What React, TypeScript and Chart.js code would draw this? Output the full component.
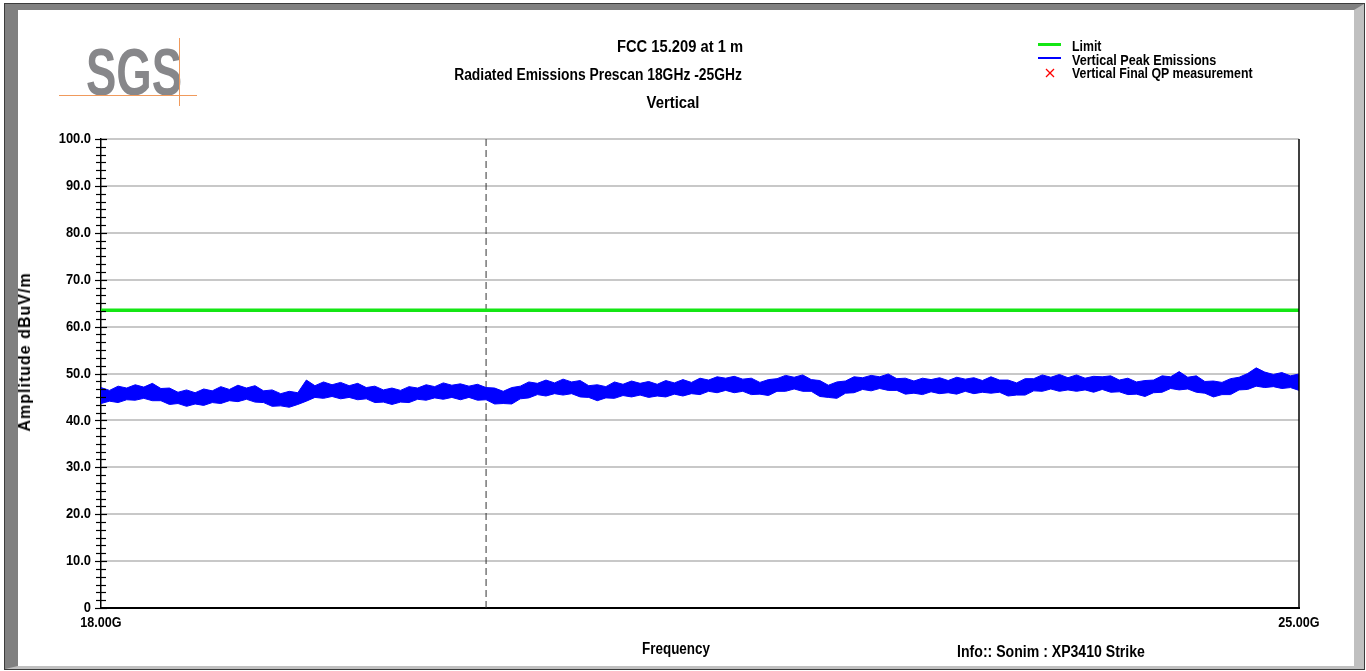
import React, { useEffect, useRef } from "react";
import { Chart, registerables } from "chart.js";

Chart.register(...registerables);

const FONT = '"Liberation Sans", Arial, sans-serif';

// Sweep grid (GHz)
const FREQ_START_GHZ = 18;
const FREQ_STOP_GHZ = 25;
const FREQ_STEP_GHZ = 0.05;

// Vertical peak emissions envelope (dBuV/m), every 50 MHz
const PEAK_UPPER = [
  47.0, 46.4, 47.3, 46.9, 47.6, 47.1, 47.9, 46.8, 46.9, 46.0,
  46.5, 45.9, 46.7, 46.3, 47.2, 46.6, 47.5, 46.9, 47.4, 46.3,
  46.5, 45.7, 46.2, 45.9, 48.6, 47.4, 48.2, 47.6, 48.1, 47.4,
  47.9, 47.0, 47.3, 46.5, 46.9, 46.4, 47.2, 46.9, 47.6, 47.2,
  48.0, 47.5, 47.8, 47.3, 47.7, 47.0, 46.9, 46.2, 47.0, 47.3,
  48.2, 47.9, 48.6, 48.0, 48.8, 48.2, 48.5, 47.4, 47.6, 47.2,
  48.2, 47.7, 48.4, 47.9, 48.3, 47.7, 48.5, 48.0, 48.7, 48.1,
  49.0, 48.6, 49.3, 49.0, 49.4, 48.8, 49.0, 48.1, 48.7, 48.9,
  49.6, 49.2, 49.7, 48.7, 48.5, 47.5, 48.2, 48.4, 49.3, 49.1,
  49.6, 49.3, 49.9, 48.9, 49.0, 48.4, 49.0, 48.7, 49.1, 48.5,
  49.2, 48.8, 49.1, 48.5, 49.3, 48.6, 48.6, 48.0, 48.9, 48.9,
  49.7, 49.2, 49.8, 49.1, 49.7, 49.0, 49.4, 49.3, 49.5, 48.6,
  49.0, 48.2, 48.5, 48.6, 49.5, 49.3, 50.4, 49.2, 49.5, 48.3,
  48.4, 48.1, 48.9, 49.2, 50.0, 51.2, 50.3, 49.8, 50.2, 49.5,
  49.9,
];
const PEAK_LOWER = [
  43.6, 44.1, 43.8, 44.4, 44.3, 44.7, 44.2, 44.2, 43.4, 43.6,
  43.0, 43.5, 43.2, 43.8, 43.6, 44.2, 44.0, 44.5, 43.9, 43.8,
  43.0, 43.1, 42.8, 43.4, 44.1, 44.9, 44.7, 45.1, 44.6, 44.9,
  44.4, 44.6, 43.8, 43.9, 43.4, 43.9, 43.8, 44.5, 44.3, 44.8,
  44.5, 44.9, 44.4, 44.9, 44.3, 44.4, 43.5, 43.6, 43.5, 44.6,
  44.8, 45.5, 45.2, 45.7, 45.4, 45.7, 45.0, 44.9, 44.2, 44.8,
  44.7, 45.3, 45.0, 45.4, 44.9, 45.2, 45.0, 45.6, 45.2, 45.7,
  45.5, 46.2, 45.9, 46.4, 45.9, 46.2, 45.5, 45.6, 45.3, 46.2,
  46.2, 46.7, 46.2, 46.2, 45.1, 44.9, 44.7, 45.8, 45.9, 46.6,
  46.3, 46.8, 46.4, 46.4, 45.6, 45.8, 45.5, 46.1, 45.7, 45.9,
  45.6, 46.2, 45.7, 46.0, 45.8, 46.0, 45.2, 45.4, 45.4, 46.3,
  46.2, 46.7, 46.2, 46.5, 46.2, 46.5, 46.0, 46.6, 46.0, 46.1,
  45.5, 45.6, 45.1, 45.9, 46.0, 46.8, 46.5, 46.7, 46.0, 45.8,
  45.0, 45.5, 45.5, 46.5, 46.6, 47.3, 47.0, 47.2, 46.8, 47.0,
  46.4,
];

const LIMIT_FREQS = [18, 25];
const LIMIT_LEVELS = [63.5, 63.5];

const MARKER_FREQS = [20.25, 20.25];
const MARKER_LEVELS = [0, 100];

const Y_TICKS = [0, 10, 20, 30, 40, 50, 60, 70, 80, 90, 100];
const Y_TICK_LABELS = ["0", "10.0", "20.0", "30.0", "40.0", "50.0", "60.0", "70.0", "80.0", "90.0", "100.0"];
const X_TICKS = [18, 25];
const X_TICK_LABELS = ["18.00G", "25.00G"];
const Y_MINOR_DIVISIONS = 6;

const SAMPLE_FREQS = PEAK_UPPER.map((_, i) => FREQ_START_GHZ + i * FREQ_STEP_GHZ);

const axisDecor = {
  id: "axisDecor",
  afterDraw(chart: any) {
    const { ctx, chartArea, scales } = chart;
    const y = scales.y;
    const x = scales.x;
    ctx.save();
    ctx.strokeStyle = "#000";
    ctx.lineWidth = 1.5;
    ctx.beginPath();
    ctx.moveTo(chartArea.right, chartArea.top);
    ctx.lineTo(chartArea.right, chartArea.bottom);
    ctx.stroke();
    const left = chartArea.left;
    ctx.lineWidth = 1.2;
    for (let k = 0; k < Y_TICKS.length; k++) {
      const a = Y_TICKS[k];
      const last = k === Y_TICKS.length - 1;
      const b = last ? a : Y_TICKS[k + 1];
      const count = last ? 1 : Y_MINOR_DIVISIONS;
      for (let j = 0; j < count; j++) {
        const v = a + ((b - a) * j) / Y_MINOR_DIVISIONS;
        const py = Math.round(y.getPixelForValue(v)) + 0.5;
        const major = j === 0;
        ctx.beginPath();
        ctx.moveTo(left - (major ? 6 : 5), py);
        ctx.lineTo(left + (major ? 6 : 5), py);
        ctx.stroke();
      }
    }
    // tick labels (condensed bold)
    ctx.fillStyle = "#000";
    ctx.font = `bold 15px ${FONT}`;
    ctx.textBaseline = "middle";
    ctx.textAlign = "right";
    Y_TICKS.forEach((v, i) => {
      ctx.save();
      ctx.translate(left - 10, y.getPixelForValue(v));
      ctx.scale(0.86, 1);
      ctx.fillText(Y_TICK_LABELS[i], 0, 0);
      ctx.restore();
    });
    ctx.textAlign = "center";
    X_TICKS.forEach((v, i) => {
      ctx.save();
      ctx.translate(x.getPixelForValue(v), chartArea.bottom + 15);
      ctx.scale(0.84, 1);
      ctx.fillText(X_TICK_LABELS[i], 0, 0);
      ctx.restore();
    });
    ctx.restore();
  },
};

function Txt(props: {
  x: number;
  y: number;
  size: number;
  sx?: number;
  align?: "left" | "center";
  color?: string;
  rotate?: boolean;
  spacing?: number;
  children: React.ReactNode;
}) {
  const { x, y, size, sx = 1, align = "center", color = "#000", rotate, spacing = 0, children } = props;
  let transform = align === "center" ? `translate(-50%, -50%) scaleX(${sx})` : `translate(0, -50%) scaleX(${sx})`;
  let origin = align === "center" ? "center center" : "left center";
  if (rotate) {
    transform = `translate(-50%, -50%) rotate(-90deg) scaleX(${sx})`;
    origin = "center center";
  }
  return (
    <div
      style={{
        position: "absolute",
        left: x,
        top: y,
        transform,
        transformOrigin: origin,
        fontFamily: FONT,
        fontWeight: "bold",
        fontSize: size,
        lineHeight: 1,
        letterSpacing: spacing,
        whiteSpace: "nowrap",
        color,
      }}
    >
      {children}
    </div>
  );
}

export default function App() {
  const canvasRef = useRef<HTMLCanvasElement | null>(null);

  useEffect(() => {
    document.body.style.margin = "0";
    const canvas = canvasRef.current;
    if (!canvas) return;
    const chart = new Chart(canvas, {
      type: "line",
      data: {
        datasets: [
          {
            label: "Limit",
            data: LIMIT_FREQS.map((f, i) => ({ x: f, y: LIMIT_LEVELS[i] })),
            borderColor: "#14e614",
            borderWidth: 3.5,
            pointRadius: 0,
            fill: false,
          },
          {
            label: "Vertical Peak Emissions",
            data: SAMPLE_FREQS.map((f, i) => ({ x: f, y: PEAK_UPPER[i] })),
            borderColor: "#0000ff",
            backgroundColor: "#0000ff",
            borderWidth: 1,
            pointRadius: 0,
            fill: "+1",
          },
          {
            label: "Vertical Peak Emissions (lower)",
            data: SAMPLE_FREQS.map((f, i) => ({ x: f, y: PEAK_LOWER[i] })),
            borderColor: "#0000ff",
            borderWidth: 1,
            pointRadius: 0,
            fill: false,
          },
          {
            label: "Marker",
            data: MARKER_FREQS.map((f, i) => ({ x: f, y: MARKER_LEVELS[i] })),
            borderColor: "#333333",
            borderWidth: 1,
            borderDash: [7, 4],
            pointRadius: 0,
            fill: false,
          },
        ],
      },
      options: {
        animation: false,
        responsive: false,
        maintainAspectRatio: false,
        layout: { padding: { left: 0, top: 139, right: 67, bottom: 0 } },
        plugins: { legend: { display: false }, tooltip: { enabled: false }, title: { display: false } },
        scales: {
          x: {
            type: "linear",
            min: FREQ_START_GHZ,
            max: FREQ_STOP_GHZ,
            afterBuildTicks: (s: any) => {
              s.ticks = X_TICKS.map((v) => ({ value: v }));
            },
            afterFit: (s: any) => {
              s.height = 63;
            },
            ticks: { display: false },
            grid: { display: false, drawTicks: false },
            border: { display: true, color: "#000", width: 2 },
          },
          y: {
            type: "linear",
            min: 0,
            max: 100,
            afterBuildTicks: (s: any) => {
              s.ticks = Y_TICKS.map((v) => ({ value: v }));
            },
            afterFit: (s: any) => {
              s.width = 101;
            },
            ticks: { display: false },
            grid: { color: "#c8c8c8", lineWidth: 2, drawTicks: false },
            border: { display: true, color: "#000", width: 1.5 },
          },
        },
      },
      plugins: [axisDecor],
    });
    return () => chart.destroy();
  }, []);

  return (
    <div
      style={{
        position: "fixed",
        left: 0,
        top: 0,
        width: 1366,
        height: 671,
        background: "#fff",
        overflow: "hidden",
      }}
    >
      <div
        style={{
          position: "absolute",
          left: 4,
          top: 3,
          width: 1361,
          height: 667,
          boxSizing: "border-box",
          border: "1px solid #3c3c3c",
        }}
      />
      <div
        style={{
          position: "absolute",
          left: 5,
          top: 4,
          width: 1359,
          height: 665,
          boxSizing: "border-box",
          borderLeft: "13px solid #808080",
          borderTop: "6px solid #808080",
          borderRight: "10px solid #c0c0c0",
          borderBottom: "3px solid #c0c0c0",
          background: "#fff",
        }}
      />
      <canvas
        ref={canvasRef}
        width={1366}
        height={671}
        style={{ position: "absolute", left: 0, top: 0, width: 1366, height: 671 }}
      />
      {/* SGS logo */}
      <div
        style={{
          position: "absolute",
          left: 86,
          top: 39,
          fontFamily: FONT,
          fontWeight: "bold",
          fontSize: 66,
          lineHeight: 1,
          color: "#87878a",
          transform: "scaleX(0.69)",
          transformOrigin: "left top",
          whiteSpace: "nowrap",
        }}
      >
        SGS
      </div>
      <div style={{ position: "absolute", left: 59, top: 95, width: 138, height: 1, background: "#f09a5c" }} />
      <div style={{ position: "absolute", left: 179, top: 38, width: 1, height: 68, background: "#f09a5c" }} />

      {/* Titles */}
      <Txt x={680} y={47} size={16} sx={0.92}>FCC 15.209 at 1 m</Txt>
      <Txt x={598} y={75} size={16} sx={0.865}>Radiated Emissions Prescan 18GHz -25GHz</Txt>
      <Txt x={673} y={103} size={16} sx={0.93}>Vertical</Txt>

      {/* Legend */}
      <div style={{ position: "absolute", left: 1038, top: 43, width: 23, height: 3, background: "#14e614" }} />
      <div style={{ position: "absolute", left: 1038, top: 57, width: 23, height: 2, background: "#0000ff" }} />
      <svg
        width={10}
        height={10}
        style={{ position: "absolute", left: 1045, top: 68 }}
      >
        <line x1={1} y1={1} x2={9} y2={9} stroke="#ff0000" strokeWidth={1.2} />
        <line x1={9} y1={1} x2={1} y2={9} stroke="#ff0000" strokeWidth={1.2} />
      </svg>
      <Txt x={1072} y={46} size={14} sx={0.88} align="left">Limit</Txt>
      <Txt x={1072} y={60} size={14} sx={0.9} align="left">Vertical Peak Emissions</Txt>
      <Txt x={1072} y={72.5} size={14} sx={0.88} align="left">Vertical Final QP measurement</Txt>

      {/* Axis titles and info */}
      <Txt x={25} y={352} size={16} rotate spacing={1}>Amplitude dBuV/m</Txt>
      <Txt x={676} y={649} size={16} sx={0.84}>Frequency</Txt>
      <Txt x={1051} y={652} size={16} sx={0.88}>Info:: Sonim : XP3410 Strike</Txt>
    </div>
  );
}
